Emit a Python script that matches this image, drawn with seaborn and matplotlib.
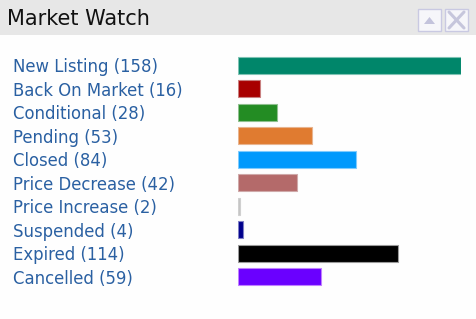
import matplotlib
matplotlib.use("Agg")
import matplotlib.pyplot as plt
from matplotlib.patches import Rectangle, Polygon
from matplotlib.lines import Line2D
import pandas as pd
import seaborn as sns

# data
statuses = [
    "New Listing",
    "Back On Market",
    "Conditional",
    "Pending",
    "Closed",
    "Price Decrease",
    "Price Increase",
    "Suspended",
    "Expired",
    "Cancelled",
]
counts = [158, 16, 28, 53, 84, 42, 2, 4, 114, 59]
bar_colors = [
    "#00866a",
    "#a80000",
    "#238c23",
    "#e07b30",
    "#0099fc",
    "#b46a6a",
    "#c4c4c4",
    "#00008c",
    "#000000",
    "#6a00ff",
]
edge_colors = [
    "#7fc3b4",
    "#c98080",
    "#8fc08f",
    "#e8b48f",
    "#7fcbfd",
    "#cfa9a9",
    "#d0d0d0",
    "#7f7fc5",
    "#9a9a9a",
    "#c180ff",
]

W, H = 476, 319
sns.set_theme(style="white")
plt.rcParams["font.family"] = ["DejaVu Sans"]

fig = plt.figure(figsize=(W / 100, H / 100), dpi=100)
fig.patch.set_facecolor("#fefefe")

# header band
fig.patches.append(
    Rectangle((0, 1 - 35 / H), 1, 35 / H, transform=fig.transFigure,
              facecolor="#e7e7e7", edgecolor="none", zorder=0)
)
fig.text(7 / W, 1 - 19 / H, "Market Watch", fontsize=15, color="#111111",
         ha="left", va="center")

# header buttons
for x0 in (418, 445):
    fig.patches.append(
        Rectangle((x0 / W, 1 - 31 / H), 23 / W, 22 / H, transform=fig.transFigure,
                  facecolor="#f6f6fa", edgecolor="#c9c9e2", linewidth=1.0, zorder=2)
    )
fig.patches.append(
    Polygon([(424 / W, 1 - 24 / H), (435 / W, 1 - 24 / H), (429.5 / W, 1 - 17 / H)],
            closed=True, transform=fig.transFigure,
            facecolor="#c3c3dc", edgecolor="none", zorder=3)
)
for (xa, ya, xb, yb) in [(449, 12, 464, 28), (449, 28, 464, 12)]:
    fig.lines.append(
        Line2D([xa / W, xb / W], [1 - ya / H, 1 - yb / H], transform=fig.transFigure,
               color="#c6c6dc", linewidth=2.2, zorder=3)
    )

# bar panel
top = 1 - 53.25 / H
bottom = 1 - 288.75 / H
left = 237.5 / W
right = 460.5 / W
ax = fig.add_axes([left, bottom, right - left, top - bottom])

df = pd.DataFrame({"status": statuses, "count": counts})
sns.barplot(data=df, x="count", y="status", hue="status", palette=bar_colors,
            legend=False, orient="h", width=0.72, ax=ax, saturation=1)
for patch, ec in zip(ax.patches, edge_colors):
    patch.set_edgecolor(ec)
    patch.set_linewidth(0.8)

ax.set_xlim(0, max(counts))
ax.set_ylim(len(statuses) - 0.5, -0.5)
ax.set_xlabel("")
ax.set_ylabel("")
ax.set_xticks([])
ax.set_facecolor("none")
for s in ax.spines.values():
    s.set_visible(False)

labels = [f"{s} ({c})" for s, c in zip(statuses, counts)]
ax.set_yticks(range(len(statuses)))
ax.set_yticklabels(labels, fontsize=11.9, color="#2a60a2", ha="left")
ax.tick_params(axis="y", length=0, pad=(237.5 - 13) * 0.72)

fig.savefig("out.png", dpi=100, facecolor=fig.get_facecolor())
